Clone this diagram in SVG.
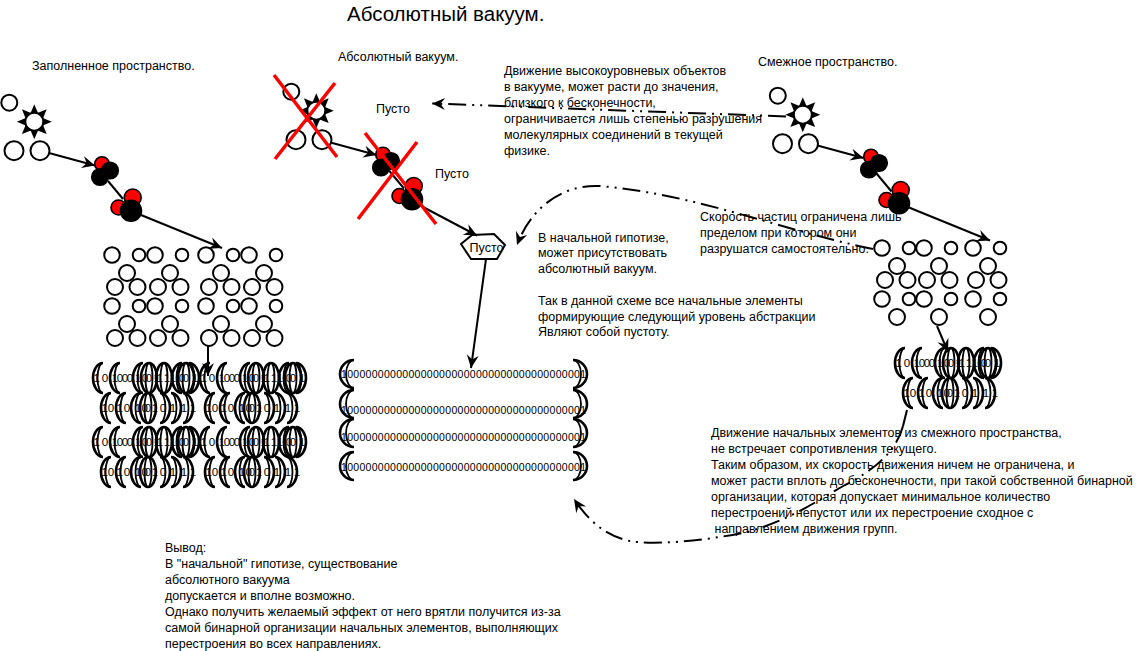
<svg xmlns="http://www.w3.org/2000/svg" width="1145" height="651" viewBox="0 0 1145 651">
<style>
.t{font-family:"Liberation Sans",Arial,sans-serif;font-size:12.5px;fill:#000}
.ttl{font-family:"Liberation Sans",Arial,sans-serif;font-size:20.5px;fill:#000}
.d{font-family:"Liberation Sans",Arial,sans-serif;font-size:11.5px;fill:#000;text-anchor:middle}
.md{font-family:"Liberation Sans",Arial,sans-serif;font-size:10.5px;fill:#000}
.o{fill:#fff;stroke:#000;stroke-width:2}
.r{fill:#f00;stroke:#000;stroke-width:1.6}
.k{fill:#000;stroke:#000;stroke-width:1.6}
.ln{fill:none;stroke:#000;stroke-width:2}
.dd{fill:none;stroke:#000;stroke-width:2;stroke-dasharray:18 6 2 6 2 6}
.x{stroke:#f00;stroke-width:3.5}
.cr{fill:none;stroke:#000;stroke-width:2.6}
.cr2{fill:none;stroke:#000;stroke-width:1.8}
</style>
<defs>
<marker id="ah" viewBox="-14 -7 15 14" refX="0" refY="0" markerWidth="15" markerHeight="14" markerUnits="userSpaceOnUse" orient="auto">
<path d="M0,0 L-13,-6 L-8.5,0 L-13,6 Z" fill="#000"/>
</marker>
<polygon id="spk" points="0,-17.5 -3.8,-8.5 3.8,-8.5" fill="#000"/>
<g id="star">
<use href="#spk"/><use href="#spk" transform="rotate(45)"/><use href="#spk" transform="rotate(90)"/><use href="#spk" transform="rotate(135)"/>
<use href="#spk" transform="rotate(180)"/><use href="#spk" transform="rotate(225)"/><use href="#spk" transform="rotate(270)"/><use href="#spk" transform="rotate(315)"/>
<circle r="9" class="o"/>
</g>
<g id="cluster">
<circle cx="9.3" cy="102.7" r="8" class="o"/>
<use href="#star" x="34.3" y="121.7"/>
<circle cx="14" cy="150.7" r="9.5" class="o"/>
<circle cx="40" cy="150.7" r="9.5" class="o"/>
</g>
<g id="mol1">
<circle cx="102" cy="164" r="7.3" class="r"/>
<circle cx="110" cy="170.5" r="8.3" class="k"/>
<circle cx="100" cy="177" r="8.3" class="k"/>
</g>
<g id="mol2">
<circle cx="132.7" cy="197.5" r="8.5" class="r"/>
<circle cx="118.5" cy="207.5" r="7.5" class="r"/>
<circle cx="131" cy="210.7" r="10.5" class="k"/>
</g>
<g id="tri2">
<circle cx="0" cy="0" r="7.8" class="o"/>
<circle cx="27" cy="0" r="6.3" class="o"/>
<circle cx="15" cy="18" r="8" class="o"/>
</g>
<g id="tri">
<use href="#tri2"/>
<circle cx="3" cy="32" r="8" class="o"/>
<circle cx="25.5" cy="32" r="8" class="o"/>
</g>
<g id="lc"><path d="M5,-15 A10,15 0 0 0 5,15" class="cr"/><path d="M5,-15 A5.5,15 0 0 0 5,15" class="cr2"/></g>
<g id="rc"><path d="M-5,-15 A10,15 0 0 1 -5,15" class="cr"/><path d="M-5,-15 A5.5,15 0 0 1 -5,15" class="cr2"/></g>
<g id="gl"><ellipse rx="8" ry="15" class="cr"/><ellipse rx="3.5" ry="15" class="cr2"/></g>
<g id="binA">
<use href="#lc" x="5"/><use href="#lc" x="22"/><use href="#lc" x="45"/><use href="#gl" x="56"/>
<use href="#gl" x="71"/><use href="#lc" x="84"/><use href="#gl" x="93"/><use href="#rc" x="101"/>
<text class="d" y="4" x="3.7 12 22 27 32 37 45.3 52 56 63.7 67 74 80 89 93 102">1010001001111001</text>
</g>
<g id="binB">
<use href="#lc" x="5"/><use href="#lc" x="20"/><use href="#lc" x="35"/><use href="#gl" x="47"/>
<use href="#rc" x="64"/><use href="#rc" x="75"/><use href="#rc" x="87"/>
<text class="d" y="4" x="3.7 10 18.7 26 37 43.7 47 54 62 72 83 92">101010010111</text>
</g>
<g id="bl"><path d="M7,-14 A14,14 0 0 0 7,14" class="cr"/><path d="M7,-14 A8,14 0 0 0 7,14" class="cr2"/></g>
<g id="br"><path d="M-7,-14 A14,14 0 0 1 -7,14" class="cr"/><path d="M-7,-14 A8,14 0 0 1 -7,14" class="cr2"/></g>
</defs>

<rect width="1145" height="651" fill="#fff"/>

<g id="titles">
<text class="ttl" x="347" y="21">Абсолютный вакуум.</text>
<text class="t" x="32" y="70">Заполненное пространство.</text>
<text class="t" x="338" y="61">Абсолютный вакуум.</text>
<text class="t" x="758" y="66">Смежное пространство.</text>
</g>

<!-- left column -->
<g id="cluster-left"><use href="#cluster"/></g>
<g id="mol1-left"><use href="#mol1"/></g>
<g id="mol2-left"><use href="#mol2"/></g>
<g id="grid-left">
<use href="#tri" x="112" y="255"/><use href="#tri" x="155" y="255"/><use href="#tri" x="206" y="255"/><use href="#tri" x="249" y="255"/>
<use href="#tri" x="112" y="306"/><use href="#tri" x="155" y="306"/><use href="#tri" x="206" y="306"/><use href="#tri" x="249" y="306"/>
</g>
<g id="binary-left">
<use href="#binA" x="93" y="378"/><use href="#binA" x="200" y="378"/>
<use href="#binB" x="101" y="408"/><use href="#binB" x="205" y="408"/>
<use href="#binA" x="93" y="442"/><use href="#binA" x="200" y="442"/>
<use href="#binB" x="101" y="472"/><use href="#binB" x="205" y="472"/>
</g>

<!-- middle column -->
<g id="cluster-mid"><use href="#cluster" x="282" y="-11"/></g>
<g id="mol1-mid"><use href="#mol1" x="281" y="-9.5"/></g>
<g id="mol2-mid"><use href="#mol2" x="281" y="-11.5"/></g>
<g id="empty-1"><text class="t" x="376" y="113">Пусто</text></g>
<g id="empty-2"><text class="t" x="435" y="178">Пусто</text></g>
<g id="empty-node">
<polygon points="461,244 472,235 494,234 505,245 497,259 471,259" fill="#fff" stroke="#000" stroke-width="2"/>
<text class="t" x="486.5" y="251.5" text-anchor="middle">Пусто</text>
</g>
<g id="binary-mid">
<use href="#bl" x="347" y="374"/><use href="#br" x="580" y="374"/>
<use href="#bl" x="347" y="404"/><use href="#br" x="580" y="404"/>
<use href="#bl" x="347" y="433"/><use href="#br" x="580" y="433"/>
<use href="#bl" x="347" y="466"/><use href="#br" x="580" y="466"/>
<text class="md" x="341" y="378" textLength="245" lengthAdjust="spacing">1000000000000000000000000000000000000001</text>
<text class="md" x="341" y="413.5" textLength="245" lengthAdjust="spacing">1000000000000000000000000000000000000001</text>
<text class="md" x="341" y="440.5" textLength="245" lengthAdjust="spacing">1000000000000000000000000000000000000001</text>
<text class="md" x="341" y="470.5" textLength="245" lengthAdjust="spacing">1000000000000000000000000000000000000001</text>
</g>

<!-- right column -->
<g id="cluster-right"><use href="#cluster" x="768.5" y="-7"/></g>
<g id="mol1-right"><use href="#mol1" x="769" y="-7.5"/></g>
<g id="mol2-right"><use href="#mol2" x="768" y="-7.5"/></g>
<g id="grid-right">
<use href="#tri" x="882" y="248"/><use href="#tri" x="924" y="248"/><use href="#tri" x="973" y="248"/>
<use href="#tri2" x="882" y="299"/><use href="#tri2" x="924" y="299"/><use href="#tri2" x="973" y="299"/>
</g>
<g id="binary-right">
<use href="#binA" x="895" y="363"/>
<use href="#binB" x="903" y="393"/>
</g>

<!-- notes -->
<g id="note-vacuum">
<text class="t" x="504" y="74.5">Движение высокоуровневых объектов</text>
<text class="t" x="504" y="90.5">в вакууме, может расти до значения,</text>
<text class="t" x="504" y="106.5">близкого к бесконечности,</text>
<text class="t" x="504" y="122.5">ограничивается лишь степенью разрушения</text>
<text class="t" x="504" y="138.5">молекулярных соединений в текущей</text>
<text class="t" x="504" y="154.5">физике.</text>
</g>
<g id="note-speed">
<text class="t" x="700" y="221">Скорость частиц ограничена лишь</text>
<text class="t" x="700" y="236.5">пределом при котором они</text>
<text class="t" x="700" y="252.5">разрушатся самостоятельно.</text>
</g>
<g id="note-hypothesis">
<text class="t" x="538" y="242">В начальной гипотизе,</text>
<text class="t" x="538" y="257">может присутствовать</text>
<text class="t" x="538" y="272.5">абсолютный вакуум.</text>
<text class="t" x="538" y="305">Так в данной схеме все начальные элементы</text>
<text class="t" x="538" y="320.5">формирующие следующий уровень абстракции</text>
<text class="t" x="538" y="336">Являют собой пустоту.</text>
</g>
<g id="note-adjacent">
<text class="t" x="711" y="437">Движение начальных элементов из смежного пространства,</text>
<text class="t" x="711" y="453">не встречает сопротивления текущего.</text>
<text class="t" x="711" y="469">Таким образом, их скорость движения ничем не ограничена, и</text>
<text class="t" x="711" y="485">может расти вплоть до бесконечности, при такой собственной бинарной</text>
<text class="t" x="711" y="501">организации, которая допускает минимальное количество</text>
<text class="t" x="711" y="517">перестроений непустот или их перестроение сходное с</text>
<text class="t" x="714.5" y="532.5">направлением движения групп.</text>
</g>
<g id="note-conclusion">
<text class="t" x="165" y="552">Вывод:</text>
<text class="t" x="165" y="568">В "начальной" гипотизе, существование</text>
<text class="t" x="165" y="584">абсолютного вакуума</text>
<text class="t" x="165" y="600">допускается и вполне возможно.</text>
<text class="t" x="165" y="616">Однако получить желаемый эффект от него врятли получится из-за</text>
<text class="t" x="165" y="632">самой бинарной организации начальных элементов, выполняющих</text>
<text class="t" x="165" y="648">перестроения во всех направлениях.</text>
</g>

<g id="connectors">
<path class="ln" d="M49,153 L95,165.5" marker-end="url(#ah)"/>
<path class="ln" d="M108,181 L123,199"/>
<path class="ln" d="M141,215 L222,248" marker-end="url(#ah)"/>
<path class="ln" d="M208,346 L208,376" marker-end="url(#ah)"/>
<path class="ln" d="M330.5,142.5 L376.5,155" marker-end="url(#ah)"/>
<path class="ln" d="M389,170.5 L404,188.5"/>
<path class="ln" d="M423,207 L477,235.5" marker-end="url(#ah)"/>
<path class="ln" d="M486,259 L471,368" marker-end="url(#ah)"/>
<path class="ln" d="M817.5,145.5 L863.5,158" marker-end="url(#ah)"/>
<path class="ln" d="M876.5,173.5 L891.5,191.5"/>
<path class="ln" d="M909,207.5 L990,240.5" marker-end="url(#ah)"/>
<path class="ln" d="M937,326 L948,352" marker-end="url(#ah)"/>
<path class="dd" d="M786,116.5 L432,103.5" marker-end="url(#ah)"/>
<path class="dd" d="M873,249 C780,230 700,195 600,186 C560,184 530,210 517,245" marker-end="url(#ah)"/>
<path class="ln" d="M907,410 L903,426"/>
<path class="dd" d="M903,426 C897,450 875,470 845,485 C815,502 790,520 747,532 C700,542 650,545 630,541 C605,536 588,520 574,499" marker-end="url(#ah)"/>
</g>

<g id="cross-marks">
<line class="x" x1="274" y1="75" x2="337" y2="157"/>
<line class="x" x1="335" y1="83" x2="275" y2="159"/>
<line class="x" x1="365" y1="133" x2="436" y2="224"/>
<line class="x" x1="417" y1="142" x2="358" y2="219"/>
</g>
</svg>
